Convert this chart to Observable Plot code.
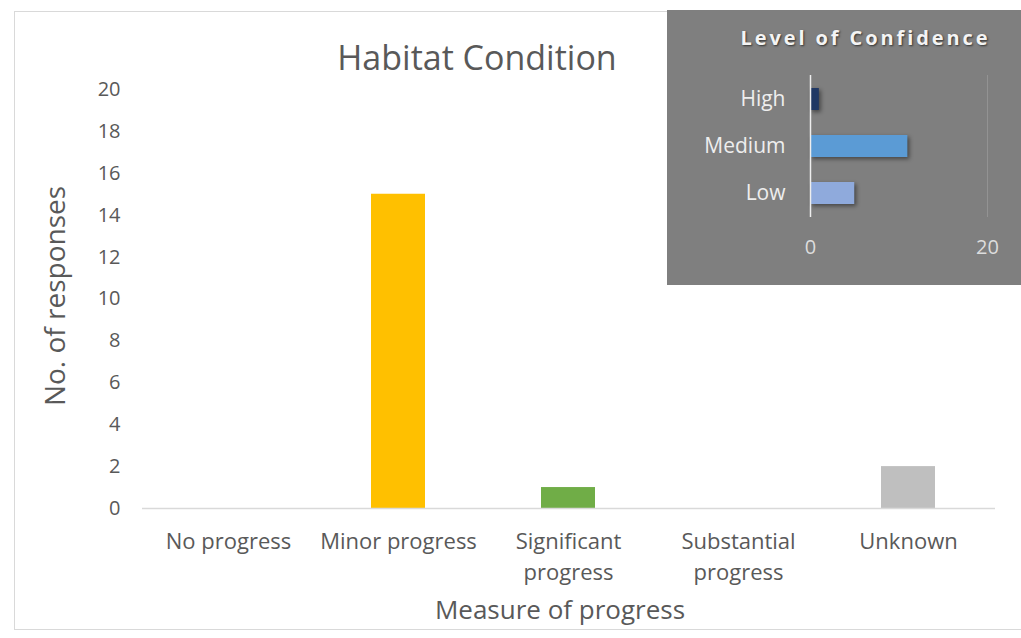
<!DOCTYPE html>
<html>
<head>
<meta charset="utf-8">
<script src="https://cdn.jsdelivr.net/npm/d3@7"></script>
<script src="https://cdn.jsdelivr.net/npm/@observablehq/plot@0.6"></script>
<style>
  html, body { margin: 0; padding: 0; background: #fff; }
  #chart { position: relative; width: 1021px; height: 638px; overflow: hidden; font-family: "Open Sans", sans-serif; }
  #chart .abs { position: absolute; white-space: nowrap; line-height: 1; }
  #chart svg { position: absolute; }
</style>
</head>
<body>
<div id="chart"></div>
<script>
// ---- Data ----
const categories = ["No progress", "Minor progress", "Significant progress", "Substantial progress", "Unknown"];
const responses = [0, 15, 1, 0, 2];
const xTickLabels = ["No progress", "Minor progress", "Significant\nprogress", "Substantial\nprogress", "Unknown"];
const yTicks = [0, 2, 4, 6, 8, 10, 12, 14, 16, 18, 20];
const barColors = ["#4472c4", "#ffc000", "#70ad47", "#ed7d31", "#bfbfbf"];

const confidenceLevels = ["High", "Medium", "Low"];
const confidenceValues = [1, 11, 5];
const confidenceColors = ["#203864", "#5b9bd5", "#8faadc"];
const confidenceTicks = [0, 20];

const chartTitle = "Habitat Condition";
const xTitle = "Measure of progress";
const yTitle = "No. of responses";
const insetTitle = "Level of Confidence";

const mainData = categories.map((c, i) => ({category: c, value: responses[i]}));
const confData = confidenceLevels.map((c, i) => ({level: c, value: confidenceValues[i]}));

const chart = document.getElementById("chart");

// frame border
const border = document.createElement("div");
border.style.cssText = "position:absolute;left:14px;top:11px;width:1020px;height:619px;border:1px solid #d9d9d9;box-sizing:border-box;";
chart.appendChild(border);

// ---- Main chart ----
const main = Plot.plot({
  width: 1021,
  height: 638,
  marginLeft: 142,
  marginRight: 26,
  marginTop: 89,
  marginBottom: 130,
  style: {fontFamily: "Open Sans", fontSize: "20px", color: "#595959", background: "transparent"},
  x: {domain: categories, paddingInner: 0.68, paddingOuter: 0.34, axis: null},
  y: {domain: [0, 20], axis: null},
  color: {domain: categories, range: barColors},
  marks: [
    Plot.barY(mainData, {x: "category", y: "value", fill: "category"}),
    Plot.ruleY([0], {stroke: "#d9d9d9", strokeWidth: 1.5}),
    Plot.axisY({ticks: yTicks, tickSize: 0, tickPadding: 22, label: null, fill: "#595959"}),
    Plot.axisX({tickSize: 0, tickPadding: 19, label: null, fill: "#595959", fontSize: 22, lineHeight: 1.4,
      tickFormat: d => xTickLabels[categories.indexOf(d)]})
  ]
});
main.style.left = "0px";
main.style.top = "0px";
chart.appendChild(main);

function addText(txt, css) {
  const d = document.createElement("div");
  d.className = "abs";
  d.textContent = txt;
  d.style.cssText += css;
  chart.appendChild(d);
  return d;
}

addText(chartTitle, "left:0px;width:954px;text-align:center;top:40px;font-size:34px;color:#595959;");
addText(xTitle, "left:160px;width:800px;text-align:center;top:596px;font-size:26px;color:#595959;");
addText(yTitle, "left:54px;top:296px;font-size:28px;color:#595959;transform:translate(-50%,-50%) rotate(-90deg);");

// ---- Inset chart ----
const inset = Plot.plot({
  width: 354,
  height: 275,
  marginLeft: 143,
  marginRight: 34,
  marginTop: 65,
  marginBottom: 68,
  style: {fontFamily: "Open Sans", fontSize: "20px", color: "#e6e6e6", background: "#7f7f7f"},
  x: {domain: [0, 20], axis: null},
  y: {domain: confidenceLevels, paddingInner: 0.54, paddingOuter: 0.27, axis: null},
  color: {domain: confidenceLevels, range: confidenceColors},
  marks: [
    Plot.gridX([20], {stroke: "#939393", strokeOpacity: 1}),
    Plot.barX(confData, {y: "level", x: "value", fill: "level"}),
    Plot.ruleX([0], {stroke: "#eeeeee", strokeWidth: 1.5}),
    Plot.axisX({ticks: confidenceTicks, tickSize: 0, tickPadding: 22, label: null, fill: "#dddddd"}),
    Plot.axisY({tickSize: 0, tickPadding: 25, label: null, fill: "#eeeeee", fontSize: 21})
  ]
});
inset.style.left = "667px";
inset.style.top = "10px";
chart.appendChild(inset);
inset.querySelectorAll('g[aria-label="bar"] rect').forEach(r => {
  r.style.filter = "drop-shadow(2px 2px 2px rgba(0,0,0,0.45))";
});

addText(insetTitle, "left:667px;width:397px;text-align:center;top:28px;font-size:20px;font-weight:bold;letter-spacing:2.9px;color:#f4f4f4;text-shadow:1px 1px 2px #333;");
</script>
</body>
</html>
